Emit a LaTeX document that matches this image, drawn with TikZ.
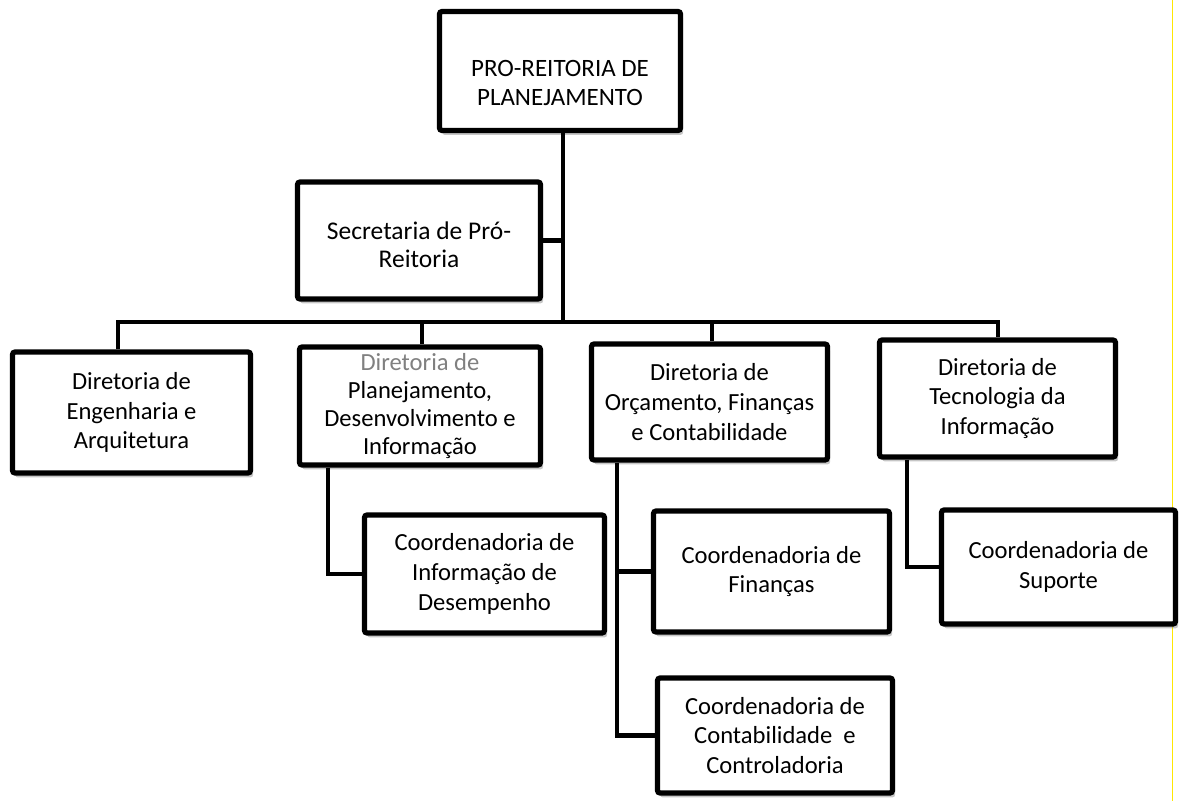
\documentclass[tikz,border=0pt]{standalone}
\usepackage{fontspec}
\setmainfont{Carlito}
\usetikzlibrary{shadows}
% extra room above the text, so it sits lower in its box
\newcommand{\downtext}[2]{\raisebox{0pt}[\dimexpr\height+2\dimexpr#1\relax\relax][\depth]{\begin{tabular}{@{}c@{}}#2\end{tabular}}}
\tikzset{
	orgbox/.style={draw, line width=3pt, fill=white, rounded corners=1.5pt, align=center,
		inner sep=2pt, font=\fontsize{14}{17}\selectfont,
		drop shadow={shadow xshift=1.5pt, shadow yshift=-2.5pt, opacity=0.45}},
	link/.style={line width=2.4pt}
}
\begin{document}
\begin{tikzpicture}
				\useasboundingbox (0,0) rectangle (23.62,-16.02);
				% scan edge
				\draw[yellow!90!orange, line width=1pt] (23.45,0) -- (23.45,-16.02);
				
				% Pro-Reitoria and secretaria
				\node[orgbox, minimum width=4.82cm, minimum height=2.38cm, font=\fontsize{14.2}{16.5}\selectfont] (pro) at (11.2,-1.42) {\downtext{0.28cm}{PRO-REITORIA DE\\PLANEJAMENTO}};
				\node[orgbox, minimum width=4.86cm, minimum height=2.34cm, font=\fontsize{14.5}{16}\selectfont] (sec) at (8.38,-4.81) {\downtext{0.14cm}{Secretaria de Pró-\\Reitoria}};
				
				% Diretorias
				\node[orgbox, minimum width=4.76cm, minimum height=2.42cm] (deng) at (2.63,-8.25) {Diretoria de\\Engenharia e\\Arquitetura};
				\node[orgbox, minimum width=4.82cm, minimum height=2.36cm, font=\fontsize{14}{16}\selectfont] (dplan) at (8.4,-8.12) {{\color{gray}Diretoria de}\\Planejamento,\\Desenvolvimento e\\Informação};
				\node[orgbox, minimum width=4.72cm, minimum height=2.32cm] (dorc) at (14.19,-8.04) {Diretoria de\\Orçamento, Finanças\\e Contabilidade};
				\node[orgbox, minimum width=4.72cm, minimum height=2.34cm] (dtec) at (19.95,-7.97) {Diretoria de\\Tecnologia da\\Informação};
				
				% Coordenadorias
				\node[orgbox, minimum width=4.8cm, minimum height=2.36cm] (cdes) at (9.69,-11.48) {Coordenadoria de\\Informação de\\Desempenho};
				\node[orgbox, minimum width=4.72cm, minimum height=2.42cm] (cfin) at (15.43,-11.43) {Coordenadoria de\\Finanças};
				\node[orgbox, minimum width=4.7cm, minimum height=2.3cm] (ccont) at (15.5,-14.71) {Coordenadoria de\\Contabilidade~ e\\Controladoria};
				\node[orgbox, minimum width=4.68cm, minimum height=2.28cm] (csup) at (21.17,-11.34) {Coordenadoria de\\Suporte};
				
				% bus line
				\coordinate (trunk) at (11.26,-6.44);
				\coordinate (b1) at (2.36,-6.44);
				\coordinate (b2) at (8.44,-6.44);
				\coordinate (b3) at (14.24,-6.44);
				\coordinate (b4) at (19.96,-6.44);
				\draw[link] (pro.south -| trunk) -- (trunk);
				\draw[link] (sec.east) -- (sec.east -| trunk);
				\draw[link] (b1 |- deng.north) -- (b1) -- (b4) -- (b4 |- dtec.north);
				\draw[link] (b2) -- (b2 |- dplan.north);
				\draw[link] (b3) -- (b3 |- dorc.north);
				
				% branches down
				\coordinate (k1) at (6.56,0);
				\coordinate (k2) at (12.34,0);
				\coordinate (k3) at (18.14,0);
				\draw[link] (k1 |- dplan.south) |- (cdes.west);
				\draw[link] (k2 |- dorc.south) |- (ccont.west);
				\draw[link] (k2 |- cfin.west) -- (cfin.west);
				\draw[link] (k3 |- dtec.south) |- (csup.west);
\end{tikzpicture}
\end{document}
